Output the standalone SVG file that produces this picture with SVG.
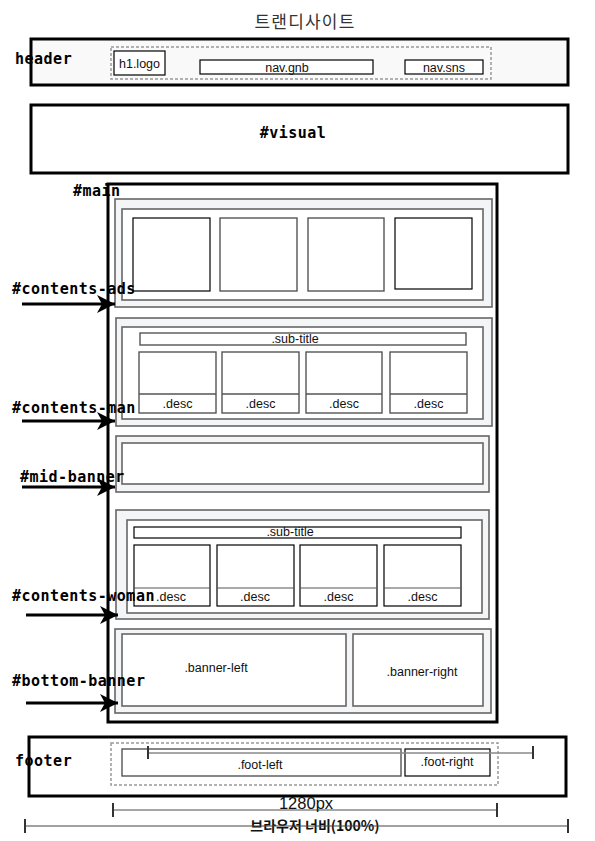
<svg xmlns="http://www.w3.org/2000/svg" width="595" height="841" viewBox="0 0 595 841">
<style>
.big{fill:none;stroke:#000;stroke-width:3}
.lbl{font-family:"DejaVu Sans Mono",monospace;font-weight:bold;font-size:15px;letter-spacing:0.5px;fill:#000}
.sm{font-family:"Liberation Sans",Arial,sans-serif;font-size:12.5px;fill:#111}
.sec{fill:#f4f5f7;stroke:#666;stroke-width:1.6}
.inn{fill:#fff;stroke:#666;stroke-width:1.6}
.box{fill:#fff;stroke:#555;stroke-width:1.4}
.blk{fill:#fff;stroke:#000;stroke-width:1.2}
.dash{fill:none;stroke:#999;stroke-width:1.5;stroke-dasharray:3 2}
.dim{fill:none;stroke:#888;stroke-width:1.5}
.tick{stroke:#333;stroke-width:2}
.arr{stroke:#000;stroke-width:3;fill:none}
</style>
<defs>
<marker id="ah" markerUnits="userSpaceOnUse" markerWidth="20" markerHeight="20" refX="18" refY="9" orient="auto" viewBox="0 0 20 20">
<path d="M0,0 L18,9 L0,18 L5,9 Z" fill="#000"/>
</marker>
</defs>
<rect width="595" height="841" fill="#fff"/>
<text x="305" y="28" text-anchor="middle" font-family="'Noto Sans CJK KR',sans-serif" font-size="17" fill="#333" letter-spacing="1.2">트랜디사이트</text>

<g id="header">
<rect x="31" y="39" width="537" height="46" fill="#f9f9f9" stroke="#000" stroke-width="3"/>
<text class="lbl" x="15" y="64">header</text>
<rect class="dash" x="111" y="47" width="380" height="32"/>
<rect class="blk" x="114" y="51" width="51" height="24"/>
<text class="sm" x="139.5" y="68" text-anchor="middle">h1.logo</text>
<rect class="blk" x="200" y="60" width="173" height="14"/>
<text class="sm" x="287" y="71.5" text-anchor="middle">nav.gnb</text>
<rect class="blk" x="405" y="60" width="78" height="14"/>
<text class="sm" x="444" y="71.5" text-anchor="middle">nav.sns</text>
</g>

<g id="visual">
<rect x="31" y="105" width="537" height="68" fill="#fff" stroke="#000" stroke-width="3"/>
<text class="lbl" x="293" y="138" text-anchor="middle">#visual</text>
</g>

<g id="main">
<rect x="108" y="184" width="389" height="538" fill="#fff" stroke="#000" stroke-width="3"/>
<text class="lbl" x="73" y="196">#main</text>
</g>

<g id="contents-ads">
<rect class="sec" x="115" y="199" width="377" height="108"/>
<rect class="inn" x="122" y="209" width="361" height="91"/>
<rect class="blk" x="133" y="218" width="77" height="73" stroke="#222"/>
<rect class="box" x="220" y="218" width="77" height="73"/>
<rect class="box" x="308" y="218" width="76" height="73"/>
<rect class="blk" x="395" y="218" width="77" height="71" stroke="#222"/>
<text class="lbl" x="12" y="294">#contents-ads</text>
</g>

<g id="contents-man">
<rect class="sec" x="116" y="318" width="376" height="108"/>
<rect class="inn" x="122" y="327" width="361" height="92"/>
<rect class="box" x="140" y="333" width="326" height="12"/>
<text class="sm" x="295" y="343" text-anchor="middle">.sub-title</text>
<g>
<rect class="box" x="139" y="352" width="77" height="61"/>
<line x1="139" y1="394" x2="216" y2="394" stroke="#555" stroke-width="1.4"/>
<text class="sm" x="177.5" y="408" text-anchor="middle">.desc</text>
<rect class="box" x="222" y="352" width="77" height="61"/>
<line x1="222" y1="394" x2="299" y2="394" stroke="#555" stroke-width="1.4"/>
<text class="sm" x="260.5" y="408" text-anchor="middle">.desc</text>
<rect class="box" x="306" y="352" width="76" height="61"/>
<line x1="306" y1="394" x2="382" y2="394" stroke="#555" stroke-width="1.4"/>
<text class="sm" x="344" y="408" text-anchor="middle">.desc</text>
<rect class="box" x="390" y="352" width="77" height="61"/>
<line x1="390" y1="394" x2="467" y2="394" stroke="#555" stroke-width="1.4"/>
<text class="sm" x="428.5" y="408" text-anchor="middle">.desc</text>
</g>
<text class="lbl" x="12" y="413">#contents-man</text>
</g>

<g id="mid-banner">
<rect class="sec" x="116" y="436" width="373" height="56"/>
<rect class="inn" x="122" y="443" width="361" height="41"/>
<text class="lbl" x="20" y="482">#mid-banner</text>
</g>

<g id="contents-woman">
<rect class="sec" x="116" y="510" width="373" height="109"/>
<rect class="inn" x="127" y="520" width="355" height="93"/>
<rect class="blk" x="134" y="527" width="327" height="11"/>
<text class="sm" x="290" y="536" text-anchor="middle">.sub-title</text>
<rect class="blk" x="134" y="545" width="76" height="61"/>
<line x1="134" y1="588" x2="210" y2="588" stroke="#555" stroke-width="1.2"/>
<text class="sm" x="171" y="601" text-anchor="middle">.desc</text>
<rect class="blk" x="217" y="545" width="77" height="61"/>
<line x1="217" y1="588" x2="294" y2="588" stroke="#555" stroke-width="1.2"/>
<text class="sm" x="255" y="601" text-anchor="middle">.desc</text>
<rect class="blk" x="300" y="545" width="77" height="61"/>
<line x1="300" y1="588" x2="377" y2="588" stroke="#555" stroke-width="1.2"/>
<text class="sm" x="338.5" y="601" text-anchor="middle">.desc</text>
<rect class="blk" x="384" y="545" width="77" height="61"/>
<line x1="384" y1="588" x2="461" y2="588" stroke="#555" stroke-width="1.2"/>
<text class="sm" x="422.5" y="601" text-anchor="middle">.desc</text>
<text class="lbl" x="12" y="601">#contents-woman</text>
</g>

<g id="bottom-banner">
<rect class="sec" x="115" y="629" width="376" height="84"/>
<rect class="inn" x="122" y="634" width="224" height="72"/>
<text class="sm" x="216" y="672" text-anchor="middle">.banner-left</text>
<rect class="inn" x="353" y="634" width="130" height="72"/>
<text class="sm" x="422" y="676" text-anchor="middle">.banner-right</text>
<text class="lbl" x="12" y="686">#bottom-banner</text>
</g>

<g id="footer">
<rect x="29" y="737" width="537" height="59" fill="#fff" stroke="#000" stroke-width="3"/>
<text class="lbl" x="15" y="766">footer</text>
<rect class="dash" x="111" y="743" width="387" height="42"/>
<rect class="box" x="122" y="749" width="279" height="27"/>
<text class="sm" x="260" y="769" text-anchor="middle">.foot-left</text>
<rect class="blk" x="405" y="749" width="85" height="27" stroke="#222"/>
<text class="sm" x="447" y="766" text-anchor="middle">.foot-right</text>
<line class="dim" x1="148" y1="753" x2="533" y2="753"/>
<line class="tick" x1="148" y1="746" x2="148" y2="759"/>
<line class="tick" x1="533" y1="746" x2="533" y2="759"/>
</g>

<g id="dimensions">
<line class="dim" x1="113" y1="810" x2="497" y2="810"/>
<line class="tick" x1="113" y1="803" x2="113" y2="817"/>
<line class="tick" x1="497" y1="803" x2="497" y2="817"/>
<text x="306" y="809" text-anchor="middle" font-family="'Liberation Sans',Arial,sans-serif" font-size="16.5" fill="#111">1280px</text>
<text x="315" y="831" text-anchor="middle" font-family="'Noto Sans CJK KR',sans-serif" font-weight="bold" font-size="14" fill="#111">브라우저 너비(100%)</text>
<line x1="25" y1="826" x2="568" y2="826" stroke="#444" stroke-width="1.2"/>
<line class="tick" x1="25" y1="819" x2="25" y2="833"/>
<line class="tick" x1="568" y1="819" x2="568" y2="833"/>
</g>

<g id="connectors">
<line class="arr" x1="22" y1="304" x2="115" y2="304" marker-end="url(#ah)"/>
<line class="arr" x1="22" y1="421" x2="115" y2="421" marker-end="url(#ah)"/>
<line class="arr" x1="22" y1="487" x2="115" y2="487" marker-end="url(#ah)"/>
<line class="arr" x1="26" y1="615" x2="118" y2="615" marker-end="url(#ah)"/>
<line class="arr" x1="26" y1="703" x2="118" y2="703" marker-end="url(#ah)"/>
</g>
</svg>
